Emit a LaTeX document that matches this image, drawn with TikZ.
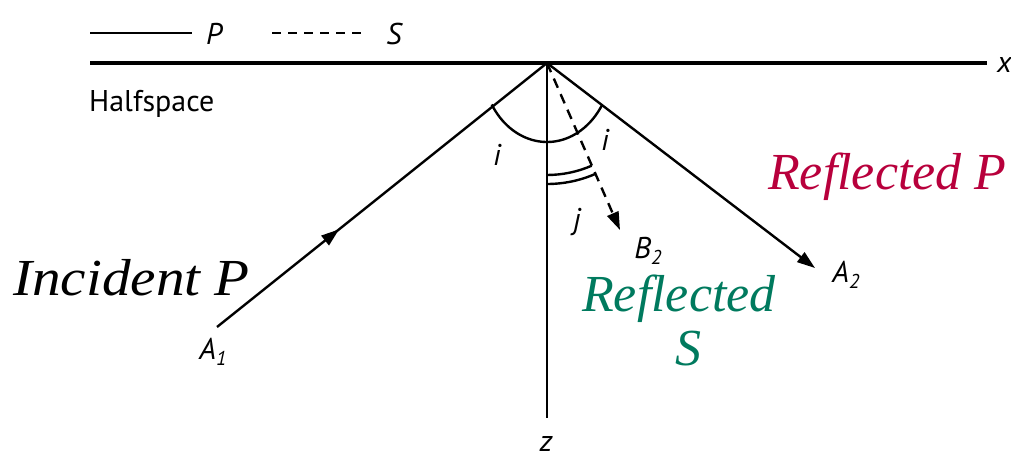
\documentclass[tikz,border=0pt]{standalone}
\usepackage{fontspec}
\setmainfont{Liberation Serif}
\newfontfamily\lblfont{PT Sans}
\newfontfamily\bigfont{Liberation Serif}
\usetikzlibrary{arrows.meta,decorations.markings,calc}
\definecolor{redP}{HTML}{B8003C}
\definecolor{greenS}{HTML}{007A5E}
\newcommand{\subsc}[1]{\raisebox{-6pt}{\fontsize{20}{20}\selectfont #1}}
\begin{document}
\begin{tikzpicture}[x=1pt,y=1pt,
  ray/.style={line width=2.4pt},
  tipA/.style={-{Triangle[length=18pt,width=12pt]}},
  lbl/.style={font=\lblfont\itshape\fontsize{30}{32}\selectfont, inner sep=0pt},
  big/.style={font=\bigfont\itshape\fontsize{52}{56}\selectfont, inner sep=0pt},
]
\useasboundingbox (0,0) rectangle (1011,461);
% key points
\coordinate (O) at (547,398);
\coordinate (A1p) at (217,134);
\coordinate (A2p) at (815,193);
\coordinate (B2p) at (620,231);
\coordinate (Zp) at (547,43);
\coordinate (SurfL) at (90,398);
\coordinate (SurfR) at (987,398);
\coordinate (LegPa) at (90,428);
\coordinate (LegPb) at (192,428);
\coordinate (LegSa) at (272,428);
\coordinate (LegSb) at (366,428);
% surface
\draw[line width=4.5pt] (SurfL) -- (SurfR);
\node[lbl, anchor=west] (xl) at (997,396) {x};
% legend
\draw[ray] (LegPa) -- (LegPb);
\node[lbl] (lp) at (214,427) {P};
\draw[ray, dash pattern=on 9pt off 7pt] (LegSa) -- (LegSb);
\node[lbl] (ls) at (394,427) {S};
\node[font=\lblfont\fontsize{30}{32}\selectfont, inner sep=0pt, anchor=base west] (hs) at (89,349) {Halfspace};
% rays
\draw[ray, postaction={decorate}, decoration={markings, mark=at position 0.37 with {\arrow{Triangle[length=18pt,width=12pt]}}}] (A1p) -- (O);
\draw[ray, tipA] (O) -- (A2p);
\draw[ray, tipA, dash pattern=on 10pt off 7pt] (O) -- (B2p);
\draw[ray] (O) -- (Zp);
% angle arcs
\draw[ray] ($(O)+(211.7:65 and 79)$) arc[start angle=211.7, end angle=328.3, x radius=65, y radius=79];
\draw[ray] ($(O)+(270:112)$) arc[start angle=270, end angle=293.5, radius=112];
\draw[ray] ($(O)+(270:121)$) arc[start angle=270, end angle=293.5, radius=121];
% labels
\node[lbl] (il) at (497,306) {i};
\node[lbl] (ir) at (605,321) {i};
\node[lbl] (jl) at (577,239) {j};
\node[lbl] (a1) at (213,109) {A\subsc{1}};
\node[lbl] (b2) at (648,210) {B\subsc{2}};
\node[lbl] (a2) at (846,186) {A\subsc{2}};
\node[lbl] (zl) at (546,17) {z};
% big labels
\node[big, anchor=base west] (inc) at (13,166) {\scalebox{1.1}[1]{Incident P}};
\node[big, anchor=base west, text=redP] (rp) at (768,271) {Reflected P};
\node[big, anchor=base west, text=greenS] (rs1) at (582,150) {Reflected};
\node[big, anchor=base, text=greenS] (rs2) at (688,96) {S};
\end{tikzpicture}
\end{document}
